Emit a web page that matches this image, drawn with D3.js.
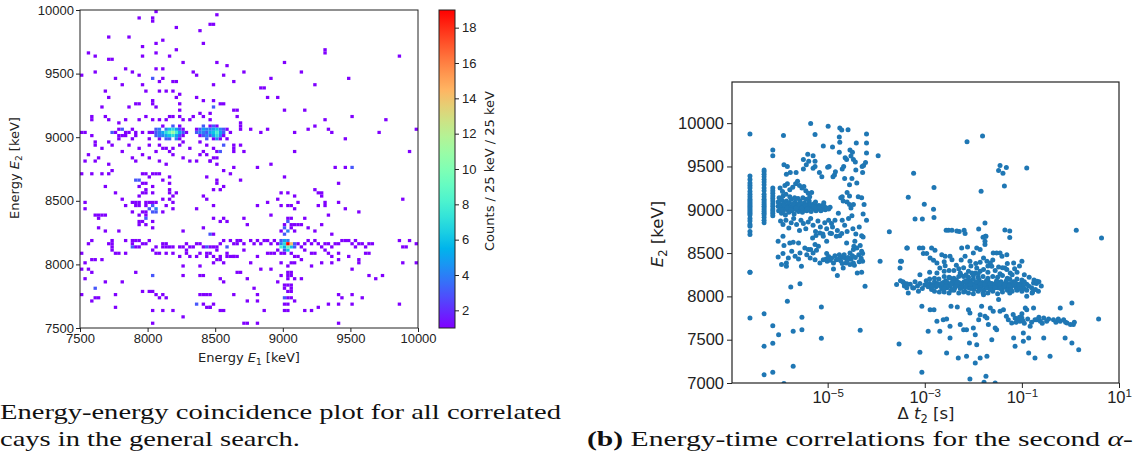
<!DOCTYPE html>
<html>
<head>
<meta charset="utf-8">
<script src="https://cdn.jsdelivr.net/npm/d3@7"></script>
<style>
  body { margin: 0; background: #fff; }
  svg { display: block; }
</style>
</head>
<body>
<div id="chart"></div>
<script>
// ---------- panel (a): 2D histogram, cells are [E1 bin start, E2 bin start, counts (default 1)]
const binW = 25
const eTicks = [7500, 8000, 8500, 9000, 9500, 10000]
const cbTicks = [2, 4, 6, 8, 10, 12, 14, 16, 18]

const cellsUpper = [
  [7500,9475],[7550,9650],[7600,9625],[7700,9600],[7725,9600],[7700,9775],[7600,9500],[7675,9350],[7700,9300],[7650,9225],
  [7575,9150],[7675,9150],[7750,9450],[7800,9400],[7850,9775],[7825,9525],[7875,9500],[7925,9475],[7850,9225],[7900,9250],
  [7925,9250],[7950,9400],[7975,9350],[7950,9700],[7950,9625],[7925,9925],[8025,9925],[8025,9900],[8050,9975],[8050,9725],
  [8050,9650],[8100,9750],[8025,9275],[8025,9250],[8050,9525],[8100,9525],[8075,9425],[8100,9450],[8025,9450,3],[8075,9350],
  [8125,9350],[8050,9225],[8150,9625],[8200,9850],[8200,9675],[8175,9425],[8200,9425],[8175,9350],[8200,9300],[8225,9325],
  [8250,9575],[8225,9250],[8225,9200],[8150,9150],[8175,9150],[8325,9500],[8350,9475],[8325,9150],[8350,9300],[8375,9825],
  [8400,9725],[8450,9875],[8475,9875],[8500,9950],[8500,9575],[8400,9275],[8475,9275],[8375,9175],[8450,9175],[8475,9225,3],
  [8525,9250],[8550,9250],[8550,9475],[8575,9550],[8475,9400],[8625,9425],[8625,9200],[8650,9150],[8675,9100],
  [9300,9650],[9300,9675],[9850,9625],[8700,9500],[9000,9575],[9125,9500],[8900,9450],[8825,9375],[8850,9375],[9225,9400],
  [9475,9450],[8875,9300],[8950,9300],[8650,9200],[9000,9200],[9150,9200],[9300,9125],[9500,9150],[9750,9125],
  [7575,9125],[7700,9125],[7775,9100],[7825,9125],[7925,9125],[7975,9150],[8025,9125],[8075,9125],[8125,9125],[8225,9150],
  [8250,9125],[8300,9125],[8400,9150],[8450,9125]
]

const cells9000 = [
  [8100,9075],[8175,9075,3],[8225,9075],
  [8050,9050,3],[8075,9050,4],[8125,9050,4],[8150,9050,6],[8175,9050,7],[8200,9050,5],[8225,9050,3],[8250,9050],
  [8025,9025],[8050,9025,3],[8075,9025,4],[8100,9025,5],[8125,9025,7],[8150,9025,9],[8175,9025,11],[8200,9025,8],[8225,9025,5],
  [8250,9025,3],[8275,9025],
  [8050,9000,3],[8075,9000,4],[8100,9000,4],[8125,9000,5],[8150,9000,6],[8175,9000,7],[8200,9000,5],[8225,9000,3],[8250,9000],
  [8075,8975],[8125,8975,3],[8150,8975,3],[8200,8975,4],[8225,8975],
  [8400,9075,3],[8450,9075],[8475,9075,3],[8500,9075],
  [8350,9050],[8375,9050,3],[8400,9050,5],[8425,9050,4],[8450,9050,4],[8475,9050,5],[8500,9050,6],[8525,9050,4],[8550,9050,3],
  [8575,9050],
  [8350,9025,3],[8375,9025,4],[8400,9025,4],[8425,9025,3],[8450,9025,5],[8475,9025,6],[8500,9025,8],[8525,9025,5],[8550,9025,3],
  [8600,9025],
  [8375,9000],[8400,9000,3],[8425,9000,4],[8450,9000,3],[8475,9000,5],[8500,9000,7],[8525,9000,4],[8550,9000],
  [8425,8975,3],[8475,8975],[8500,8975,4],[8525,8975],
  [7500,9025],[7525,9025],[7725,9025,3],[7750,9025],[7775,9050],[7775,9000],[7800,9000],[7825,9000],[7850,9025],[7875,9050],
  [7900,9025],[7900,9000],[7950,9025],[8000,9025],[7575,9000],[7800,9050,3],[7825,9025],
  [7600,8950],[7700,8950],[7775,8975],[7875,8975],[8000,8975],[8250,8950],[8375,8950],[8575,8975],
  [7550,8850],[7600,8925],[7650,8900],[7725,8925],[7850,8925],[7925,8900],[8000,8925],[8075,8925],[8125,8900],[8175,8900],
  [8225,8925],[8300,8900],[8425,8925],[8475,8900],[8550,8925,3],[8625,8900],[8100,8900],[8150,8875],[8400,8875],[8500,8875],
  [7525,8800],[7600,8800],[7625,8825],[7700,8775],[7800,8875],[7875,8825],[7900,8800],[7950,8850],[8000,8825],[8050,8875],
  [8075,8800],[8125,8775],[8175,8850],[8250,8825],[8300,8800],[8350,8800],[8375,8850],[8450,8800],
  [8675,9050],[8675,9075],[8750,9050],[8875,9050],[8825,9025],[9075,9025],[9175,9050],[9225,9075],[9325,9050],[9350,9025],
  [9700,9025],[9975,9050],[9450,8975],[8625,8925],[8675,8925],[8625,8875],[8700,8875],[9075,8875],[9925,8875],[8425,8850],
  [8475,8825],[8500,8825],[8450,8800],[8500,8775],[8625,8750],[8800,8750],[8900,8775],[9375,8750],[9450,8750],
  [8525,8875,3],[9500,8750,3]
]

const cellsMid = [
  [8425,8675],[9000,8675],[7500,8700],[7575,8700],[7650,8700],[7700,8700],[7725,8725],[7675,8600],[7750,8550],[7800,8500],
  [7825,8450],[7875,8475],[7900,8450],[7525,8425],[7525,8475],[7600,8375],[7625,8375],[7650,8375],[7675,8375],[7625,8350],
  [7625,8275],[7675,8250],[7775,8250],
  [7900,8650,3],[7925,8650,3],[7950,8625],[7975,8625],[7925,8600],[7975,8575],[8025,8600],[7950,8550],[7975,8550],[8025,8550],
  [7925,8525],[7900,8475],[7925,8475],[7975,8475],[8000,8475],[8025,8475],[8050,8475],[7925,8450],[7975,8450],[8025,8450,3],
  [8000,8425,3],[8050,8425,4],[8025,8400,3],[8050,8400,3],[7875,8400],[7950,8400],[7975,8400],[8100,8400],[7925,8375],
  [7975,8375],[7975,8350,3],[7925,8300],[7925,8325],[7950,8325],[7975,8300],[8025,8325],[8025,8275],
  [7950,8700],[7975,8700],[8000,8675],[8025,8700],[8050,8700],[8075,8700],[8100,8650],[8150,8675],[8150,8625],[8150,8575],
  [8150,8550],[8200,8550],[8175,8525],[8100,8500],[8150,8500],[8175,8475],[8125,8450],[8175,8425],[8250,8250],[8350,8425],
  [8425,8500],[8475,8575],[8500,8625],[8550,8725],[8600,8700],[8475,8350],[8525,8325],[8450,8225,3],
  [8500,8650],[8550,8600],[8525,8575],[8475,8450],[8400,8525],[8675,8650],[8550,8350],[8575,8325],[8400,8275],[8475,8225],
  [8700,8350],[8725,8300],[8800,8450],[8875,8475],[8900,8375],[8950,8500],[8975,8550],[9025,8550],[9075,8525],[8975,8450],
  [9025,8450],[9050,8450],[9075,8425],[9100,8475],[9150,8350],[9225,8575],[9250,8550],[9275,8550],[9275,8525],[9250,8450],
  [9300,8475],[9300,8450],[9325,8375],[9400,8625],[9400,8475],[9450,8425],[9550,8400],[9275,8300],[9350,8225],[9875,8500],
  [9025,8350],[9050,8350],[9025,8325,3],[9000,8300],[9050,8300],[9075,8300],[9100,8300],[9125,8300],[9000,8275,3],[9050,8275],
  [9025,8250,4],[9075,8250],[9175,8275],[9225,8250],[8975,8250],[9000,8225,3]
]

const cells8100 = [
  [7550,8150],[7575,8175],[7700,8150],[7725,8175],[7725,8150],[7725,8125],[7825,8175],[7875,8175],[7900,8175],[7925,8175],
  [7875,8150],[7875,8125,3],[7900,8125],[7925,8125],[7950,8150],[7975,8150],[8000,8175],[8025,8100],[8050,8125],[8050,8075],
  [8075,8075],[8100,8150],[8100,8125],[8125,8150],[8125,8125],[8150,8125],[8175,8125],[8225,8125],[8250,8125],[8275,8150],
  [8275,8100],[8300,8125],[8325,8125],[8350,8150],[8375,8150],[8400,8125],[8425,8125,3],[8450,8125],[8475,8125],[8500,8125],
  [8525,8150],[8550,8175],[8575,8125,3],[8600,8175],[8625,8150],[8650,8150],[8650,8175],
  [7725,8100],[7775,8075],[7750,8075],[7825,8075],[7500,8075],[7575,8025],[7600,8025],[7650,8025],[7525,8000],
  [8125,8075],[8175,8075],[8225,8050],[8275,8075],[8300,8050],[8350,8050],[8375,8075],[8425,8050],[8450,8075],[8475,8050],
  [8500,8025],[8525,8025],[8575,8050],[8600,8050],[8625,8050],
  [8675,8175],[8700,8150],[8750,8175],[8775,8150],[8800,8175],[8825,8150],[8850,8175],[8875,8175],[8900,8150],[8925,8175],
  [8950,8150],[8975,8150,4],[8975,8175,3],[9000,8175,5],[9025,8150,19],[9050,8150,14],[9000,8150,7],[9025,8175,4],
  [8975,8125,8],[9025,8125,9],[9050,8125,6],[9000,8125,5],[9025,8100,6],[9000,8100,3],[9075,8150,3],[9075,8125,3],
  [9100,8150],[9125,8125],[9150,8150],[9175,8175],[9200,8150],[9225,8175],[9250,8150],[9275,8125],[9300,8150],[9325,8150],
  [9350,8125],[9375,8150],[9400,8150],[9425,8175],[9450,8175],[9475,8175],[9500,8150],[9525,8175],[9550,8150],[9575,8150],
  [9600,8125],[9625,8150],[9650,8150],[9850,8175],[9875,8125],[9900,8125],[9925,8175],[9975,8150],
  [8425,8075],[8500,8100],[8525,8050],[8575,8075],[8625,8050],[8650,8050],[8700,8100],[8800,8050],[8875,8075],[8900,8075],
  [8925,8075],[8950,8100],[8975,8075],[9000,8075],[9050,8075],[9075,8050],[9100,8050],[9150,8100],[9200,8075],[9225,8075],
  [9300,8100],[9325,8075],[9350,8050],[9400,8075],[9475,8050],[9525,8125],[9550,8025],[9600,8075],[9625,8075],
  [8375,7975],[8475,8000],[8550,8000],[8750,8000],[8825,7950],[8900,7950],[8975,8000],[9025,7975],[9050,8000],[9075,8000],
  [9125,8025],[9200,7975],[9275,8000],[9350,8000],[9400,8025],[9500,7950],[9550,8000],[9875,8000],[9975,8000]
]

const cellsLower = [
  [7500,7950],[7550,7950],[7575,7925],[7525,7875],[7575,7700],[7600,7725],[7625,7725],[7500,7750],[7675,7850],[7750,7750],
  [7750,7650],[7800,7850],[7600,7800,3],
  [7900,7925],[8025,7900,3],[7950,7775],[8000,7775],[8025,7775],[8050,7750],[8075,7725],[8100,7750],[8125,7725],[8025,7625],
  [8100,7625],[8175,7625],[8250,7575],[8025,7525],[8250,7975],[8250,7900],[8375,7900],[8525,7875],[8350,7675,3],[8375,7750],
  [8425,7750],[8425,7650],[8450,7650],[8525,7625],[8650,7925],
  [9025,7925],[9050,7925],[9025,7900],[9050,7900],[9025,7875],[9000,7825],[9025,7825],[9050,7825],[9000,7800],[9050,7800],
  [9025,7775],[9050,7775],[9000,7725,3],[9025,7725],[9050,7725],[9075,7700],[9000,7675],[9025,7675],[9000,7625],[9025,7625],
  [8400,7900],[8550,7850],[8675,7925],[8725,7875],[8775,7800],[8800,7750],[8725,7700],[8800,7700],[8850,7625],[8950,7850],
  [8975,7900],[9075,7875],[9125,7875],[9150,7625],[9200,7625],[9250,7650],[9325,7675],[9400,7750],[9425,7725],[9500,7750],
  [9575,7725],[9500,7675],[9400,7675],[9625,7900],[9675,7875],[9725,7900],[9850,7675],[8400,7750],[8450,7750],[8625,7750],
  [8475,7675],[8400,7675],[8450,7650],[8550,7625],[8700,7525],[8725,7525],[8800,7525],[9400,7525]
]

// ---------- panel (b): scatter, points are [log10(dt2 / s), E2 keV]
const tTicks = [1e-5, 1e-3, 1e-1, 1e1]
const sTicksY = [7000, 7500, 8000, 8500, 9000, 9500, 10000]

const stripeTimes = [-6.6, -6.31, -6.13]
const stripeE = [
  [9876,9390,9350,9310,9280,9250,9210,9180,9150,9120,9100,9080,9060,9040,9020,9000,8980,8960,8940,8900,8870,8830,8810,8750,8715,8280,7750],
  [9460,9440,9410,9380,9350,9320,9290,9250,9220,9180,9150,9120,9100,9080,9060,9040,9020,9000,8980,8960,8940,8910,8880,8850,7800,7425,7095],
  [9690,9625,9250,9220,9190,9160,9130,9100,9070,9040,9010,8985,8960,8930,7660,7460,7125]
]

const pts9000 = [
  [-6.02,9090],[-6.02,9040],[-6.01,8990],[-6.0,9140],[-5.98,9010],[-5.97,9060],[-5.95,8960],[-5.94,9110],[-5.93,9030],[-5.91,8990],
  [-5.9,9070],[-5.88,9020],[-5.87,8940],[-5.85,9100],[-5.84,9050],[-5.82,9000],[-5.8,8970],[-5.79,9080],[-5.77,9030],[-5.75,9120],
  [-5.74,8990],[-5.72,9050],[-5.7,9010],[-5.69,8950],[-5.67,9090],[-5.66,9040],[-5.64,9000],[-5.62,9060],[-5.6,8980],[-5.59,9030],
  [-5.57,9100],[-5.55,9010],[-5.54,9050],[-5.52,8970],[-5.5,9030],[-5.48,9080],[-5.47,9000],[-5.45,9040],[-5.43,8990],[-5.41,9060],
  [-5.4,9020],[-5.38,9100],[-5.36,9030],[-5.34,8980],[-5.32,9050],[-5.3,9010],[-5.28,9070],[-5.26,9030],[-5.24,8990],[-5.22,9040],
  [-5.2,9010],[-5.18,9050],[-5.16,9020],[-5.14,8990],[-5.12,9030],[-5.1,9010],[-5.07,9040],[-5.05,9000],[-5.02,9020],[-4.98,9010],
  [-4.95,9030],[-5.96,9000],[-5.89,9050],[-5.83,9020],[-5.76,9000],[-5.71,9070],[-5.65,9020],[-5.58,9060],[-5.53,9020],[-5.46,9050],
  [-5.42,9010],[-5.35,9060],[-5.29,9040],[-5.23,9020],[-5.17,9030],[-5.11,9050],[-5.92,9160],[-5.86,9180],[-5.78,9150],[-5.68,9140],
  [-5.61,9130],[-5.51,9140],[-5.44,9120],[-5.37,9150],[-5.25,9090],[-5.08,9080],
  [-5.97,8870],[-5.92,8830],[-5.86,8880],[-5.8,8790],[-5.75,8850],[-5.7,8900],[-5.64,8830],[-5.58,8760],[-5.55,8880],[-5.5,8840],
  [-5.45,8780],[-5.4,8860],[-5.35,8900],[-5.3,8820],[-5.25,8750],[-5.2,8870],[-5.15,8800],[-5.1,8720],[-5.06,8850],[-5.02,8780],
  [-4.95,8730],[-4.9,8800],[-4.8,8760],[-4.75,8700],[-4.65,8820],[-4.6,8750],[-4.48,8780],[-4.42,8720],[-4.35,8800],[-4.3,8700]
]

const ptsUpper = [
  [-5.98,9250],[-5.93,9210],[-5.88,9280],[-5.83,9300],[-5.78,9230],[-5.72,9260],[-5.66,9300],[-5.62,9330],[-5.58,9280],[-5.53,9250],
  [-5.49,9270],[-5.45,9220],[-5.4,9190],[-5.33,9200],[-5.85,9410],[-5.9,9520],[-5.83,9500],[-5.77,9430],[-5.65,9430],[-5.39,9560],
  [-5.44,9520],[-5.5,9470],[-5.3,9480],[-5.26,9500],[-5.17,9430],[-5.12,9380],[-5.0,9490],[-4.97,9500],[-4.89,9380],[-4.86,9400],
  [-4.84,9440],[-4.7,9470],[-4.67,9500],[-4.65,9360],[-4.55,9290],[-4.6,9200],[-4.7,9150],[-4.73,9140],[-4.68,9100],[-4.6,9090],
  [-4.55,9060],[-4.52,9020],[-4.47,9060],[-4.37,9150],[-4.3,9140],[-4.25,9060],[-4.27,8950],[-4.2,8880],[-4.5,8930],[-4.57,8900],
  [-4.7,8880],[-4.78,8960],[-4.85,8880],[-4.92,8840],[-4.98,8880],
  [-5.91,9857],[-5.35,9995],[-5.26,9870],[-4.99,9965],[-4.75,9945],[-4.71,9920],[-4.58,9925],[-4.76,9840],[-4.75,9780],[-5.09,9735],
  [-4.9,9725],[-4.76,9665],[-4.54,9690],[-4.49,9665],[-4.41,9770],[-4.2,9875],[-4.2,9770],[-4.2,9655],[-4.64,9600],[-4.61,9580],
  [-4.52,9620],[-4.47,9580],[-4.43,9550],[-5.41,9640],[-5.3,9625],[-5.26,9560],[-5.5,9580],[-3.96,9625],[-4.29,9500],[-4.26,9510],
  [-4.22,9545],[-4.28,9430],[-4.42,9460],[-4.5,9360],[-4.4,9310],[-4.55,9160],[-3.34,9145],
  [-3.23,9422],[-3.2,8894],[-3.05,8894],[-3.01,9064],[-2.81,9256],[-2.82,9006],[-2.81,8910],[-2.13,9784],[-1.81,9853],[-1.84,9214],
  [-1.48,9452],[-1.45,9510],[-1.39,9422],[-1.32,9487],[-1.36,9275],[-0.9,9483],[-1.76,8848],[-3.73,8745]
]

const pts8500 = [
  [-6.02,8636],[-5.92,8694],[-5.9,8586],[-5.78,8617],[-5.71,8625],[-5.6,8617],[-6.02,8455],[-5.92,8494],[-5.85,8386],[-5.81,8444],
  [-5.74,8521],[-5.67,8463],[-5.6,8432],[-5.57,8501],[-5.47,8559],[-5.4,8540],[-5.43,8482],[-5.35,8540],[-5.3,8501],[-5.23,8532],
  [-5.19,8578],[-5.26,8598],[-5.31,8675],[-5.24,8702],[-5.16,8733],[-5.09,8694],[-5.03,8432],[-5.01,8405],[-4.95,8417],[-4.88,8386],
  [-4.82,8424],[-4.76,8482],[-4.71,8455],[-4.64,8444],[-4.62,8386],[-4.54,8501],[-4.47,8540],[-4.46,8578],[-4.4,8559],[-4.33,8586],
  [-4.28,8494],[-4.28,8405],[-4.3,8278],[-4.39,8271],[-4.47,8386],[-4.54,8367],[-4.68,8328],[-4.8,8240],[-4.88,8317],[-5.02,8494],
  [-5.09,8424],[-5.16,8386],[-5.26,8424],[-5.36,8444],[-5.54,8347],[-5.85,8347],[-5.95,8367],[-4.61,8617],[-4.44,8636],[-4.27,8686],
  [-4.82,8694],[-4.92,8725],[-4.71,8725],[-5.02,8636],
  [-4.98,8460],[-4.92,8440],[-4.85,8470],[-4.78,8430],[-4.73,8410],[-4.66,8480],[-4.58,8450],[-4.52,8430],[-4.49,8470],[-4.43,8450],
  [-4.36,8480],[-4.31,8440],[-4.3,8520],[-4.35,8400],[-4.6,8410],[-4.7,8380],[-4.45,8360],
  [-3.92,8405],[-3.51,8328],[-3.5,8405],[-3.37,8559],[-3.11,8559],[-3.04,8559],[-2.86,8559],[-2.79,8532],[-2.65,8482],[-2.58,8463],
  [-2.48,8463],[-2.44,8424],[-2.24,8559],[-2.12,8571],[-2.0,8501],[-1.93,8559],[-1.86,8540],[-1.76,8598],[-1.76,8636],[-1.74,8694],
  [-1.59,8501],[-1.52,8501],[-1.45,8501],[-1.41,8463],[-1.31,8482],[-1.79,8444],[-1.72,8405],[-1.65,8386],[-1.62,8347],[-1.48,8340],
  [-1.35,8328],[-1.31,8309],[-1.24,8271],[-1.17,8386],[-1.0,8405],[-2.17,8463],[-2.07,8405],[-1.86,8394],[-1.93,8328],[-1.86,8290],
  [-1.79,8309],[-2.1,8290],[-2.03,8271],[-1.96,8271],[-2.27,8271],[-2.26,8251],[-2.48,8213],[-2.41,8194],[-2.69,8328],[-2.58,8355],
  [-3.03,8494],[-2.96,8494],[-2.89,8444],[-2.82,8417],[-2.75,8386],
  [-2.75,8270],[-2.5,8300],[-2.35,8360],[-2.2,8330],[-2.05,8350],[-1.95,8380],[-1.7,8350],[-1.6,8420],[-1.4,8330],[-1.3,8380],
  [-1.15,8320],[-1.05,8350],[-2.6,8400],[-2.25,8420],[-2.9,8280],[-3.1,8250],
  [-2.56,8763],[-2.51,8763],[-2.44,8763],[-2.34,8756],[-2.29,8748],[-2.19,8763],[-2.17,8725],[-1.89,8779],[-1.8,8683],[-1.75,8694],
  [-1.35,8767],[-1.25,8756],[-1.25,8680],[0.12,8763],[0.64,8675]
]

const pts8100 = [
  [-3.3,8140],[-3.25,8100],[-3.2,8170],[-3.15,8120],[-3.1,8150],[-3.05,8090],[-3.0,8130],[-2.97,8180],[-2.93,8110],[-2.9,8150],
  [-2.86,8080],[-2.83,8130],[-2.8,8170],[-2.77,8110],[-2.74,8150],[-2.71,8200],[-2.68,8120],[-2.65,8090],[-2.62,8160],[-2.6,8130],
  [-2.57,8180],[-2.54,8100],[-2.51,8150],[-2.48,8120],[-2.46,8070],[-2.43,8170],[-2.4,8140],[-2.38,8100],[-2.35,8190],[-2.32,8130],
  [-2.3,8160],[-2.27,8090],[-2.24,8140],[-2.22,8110],[-2.19,8170],[-2.17,8060],[-2.14,8130],[-2.12,8150],[-2.09,8100],[-2.07,8180],
  [-2.04,8120],[-2.02,8150],[-1.99,8080],[-1.97,8130],[-1.95,8160],[-1.92,8110],[-1.9,8140],[-1.88,8190],[-1.85,8100],[-1.83,8130],
  [-1.81,8160],[-1.78,8070],[-1.76,8120],[-1.74,8150],[-1.71,8100],[-1.69,8170],[-1.67,8130],[-1.64,8110],[-1.62,8150],[-1.6,8080],
  [-1.57,8140],[-1.55,8120],[-1.53,8160],[-1.5,8100],[-1.48,8140],[-1.45,8120],[-1.43,8170],[-1.4,8090],[-1.38,8140],[-1.35,8110],
  [-1.33,8160],[-1.3,8130],[-1.27,8100],[-1.24,8150],[-1.21,8120],[-1.18,8170],[-1.15,8130],[-1.12,8100],[-1.09,8140],[-1.06,8110],
  [-1.02,8150],[-0.98,8120],[-0.95,8090],[-0.9,8140],[-0.86,8120],[-0.8,8100],
  [-2.95,8140],[-2.85,8110],[-2.75,8130],[-2.66,8150],[-2.56,8120],[-2.45,8140],[-2.36,8120],[-2.26,8150],[-2.16,8110],[-2.06,8140],
  [-1.96,8120],[-1.86,8150],[-1.77,8140],[-1.66,8150],[-1.56,8100],[-1.46,8150],[-1.36,8130],[-1.26,8120],[-1.16,8140],[-1.06,8130],
  [-2.5,8220],[-2.2,8230],[-1.9,8220],[-1.6,8230],[-1.3,8210],[-1.1,8200],[-2.7,8050],[-2.3,8040],[-2.0,8030],[-1.7,8040],
  [-1.4,8050],[-1.2,8060],[-3.5,8180],[-3.42,8120],[-3.37,8100],[-3.45,8170],[-3.58,8136],[-3.43,8155],[-3.37,8147],
  [-2.9,8200],[-2.8,8210],[-2.6,8230],[-2.4,8210],[-2.3,8230],[-2.1,8220],[-2.0,8200],[-1.8,8230],[-1.7,8210],[-1.5,8220],
  [-1.4,8240],[-1.25,8200],[-1.0,8190],[-0.95,8170],
  [-2.8,8060],[-2.6,8050],[-2.5,8040],[-2.4,8070],[-2.2,8050],[-2.1,8040],[-1.9,8060],[-1.8,8040],[-1.6,8060],[-1.5,8030],
  [-1.3,8070],[-1.25,8040],[-1.1,8070],[-1.0,8060],[-0.9,8070],
  [-2.55,8170],[-2.33,8160],[-2.15,8180],[-1.93,8170],[-1.73,8180],[-1.52,8180],[-1.32,8180],[-1.14,8170],[-2.6,8090],[-2.42,8080],
  [-2.25,8100],[-2.05,8090],[-1.87,8080],[-1.65,8080],[-1.44,8090],[-1.23,8080],[-1.04,8090],
  [-2.6,8290],[-2.4,8300],[-2.3,8320],[-2.15,8250],[-2.0,8240],[-1.9,8260],[-1.7,8280],[-1.55,8300],[-1.45,8260],[-1.2,8250],
  [-1.1,8280],[-0.95,8250],[-0.85,8220],[-0.75,8190],[-0.7,8150],[-0.65,8170],[-0.6,8120],[-0.72,8080],[-0.78,8050],
  [-0.76,8155],[-0.69,8174],[-0.79,8040],[-0.9,8001],[-0.66,8059]
]

const ptsLower = [
  [-3.34,8040],[-3.23,8097],[-3.13,8059],[-3.06,7886],[-2.89,7847],[-2.81,7847],[-2.75,7712],[-2.93,7597],[-2.69,7597],[-2.62,7731],
  [-2.55,7739],[-2.48,7655],[-2.48,7520],[-2.46,7886],[-2.33,7878],[-2.27,7674],[-2.2,7616],[-2.14,7616],[-2.1,7847],[-2.08,7462],
  [-2.07,7808],[-2.0,7635],[-1.96,7558],[-1.93,7443],[-1.89,7731],[-1.86,7789],[-1.83,7886],[-1.79,8020],[-1.76,7770],[-1.72,7751],
  [-1.69,7674],[-1.65,7866],[-1.62,7500],[-1.59,7828],[-1.55,7635],[-1.52,7616],[-1.48,7963],[-1.45,7828],[-1.38,7847],[-1.32,7770],
  [-1.28,7731],[-1.21,7693],[-1.17,7520],[-1.14,7751],[-1.1,7731],[-1.07,7731],[-1.04,7712],[-1.0,7751],[-0.97,7578],[-0.93,7866],
  [-0.9,7847],[-0.86,7520],[-0.83,7655],[-0.76,7866],[-0.73,7731],[-0.69,7731],[-0.62,7712],[-0.55,7751],[-0.49,7712],[-0.35,7731],
  [-0.21,7712],[-0.14,7731],[-0.07,7693],[0.0,7674],[0.06,7674],[0.03,7924],[-0.21,7866],[-0.55,7520],[-0.11,7520],[0.03,7462],
  [0.17,7385],[-0.42,7308],[-0.73,7289],[-0.86,7346],[-0.97,7481],[-1.14,7423],[-1.72,7308],[-1.86,7289],[-1.96,7231],[-2.14,7308],
  [-2.31,7289],[-2.55,7346],[-3.1,7354],[-3.06,7123],[-2.07,7046],[-1.74,7077],[-1.55,7000],[-1.78,7008],[0.58,7739],
  [-1.12,7700],[-1.05,7760],[-0.98,7720],[-0.95,7690],[-0.88,7740],[-0.8,7700],[-0.65,7760],[-0.58,7690],[-0.45,7740],[-0.3,7700],
  [-0.25,7740],[-0.1,7700],[0.08,7700],[-1.18,7790],[-1.0,7800]
]

const ptsSparse = [
  [-6.6,8280],[-6.01,7558],[-5.9,6995],[-5.83,7943],[-5.76,8109],[-5.71,7597],[-5.71,7192],[-5.57,8147],[-5.53,7758],[-5.53,7616],
  [-5.13,7878],[-5.13,7516],[-4.33,7608],[-4.23,8116],[-3.53,7450],[-3.48,8405],[-3.36,8559]
]

// ---------- drawing
const W = 1133, H = 459
const svg = d3.select('#chart').append('svg')
  .attr('width', W).attr('height', H)
  .style('font-family', '"DejaVu Sans", sans-serif')

const rainbow = t => {
  const r = Math.min(1, Math.abs(2 * t - 0.5))
  const g = Math.sin(Math.PI * t)
  const b = Math.cos(Math.PI * t / 2)
  return d3.rgb(r * 255, g * 255, b * 255).toString()
}
const cnorm = d3.scaleLinear().domain([1, 19]).range([0, 1]).clamp(true)

// panel (a)
const xE = d3.scaleLinear().domain([7500, 10000]).range([80, 418])
const yE = d3.scaleLinear().domain([7500, 10000]).range([328, 10])

const cells = [].concat(cellsUpper, cells9000, cellsMid, cells8100, cellsLower)
  .map(d => ({ e1: d[0], e2: d[1], c: d[2] || 1 }))
  .sort((a, b) => a.c - b.c)

const gA = svg.append('g')
gA.selectAll('rect.cell').data(cells).join('rect')
  .attr('class', 'cell')
  .attr('x', d => xE(d.e1))
  .attr('y', d => yE(d.e2 + binW))
  .attr('width', d => xE(d.e1 + binW) - xE(d.e1))
  .attr('height', d => yE(d.e2) - yE(d.e2 + binW))
  .attr('fill', d => rainbow(cnorm(d.c)))

const styleAxis = (g, size) => {
  g.select('.domain').remove()
  g.selectAll('line').attr('stroke', '#222')
  g.selectAll('text').attr('fill', '#222').style('font-size', size + 'px')
}

gA.append('g').attr('transform', 'translate(0,328)')
  .call(d3.axisBottom(xE).tickValues(eTicks).tickFormat(d3.format('d')).tickSize(4).tickPadding(2))
  .call(g => styleAxis(g, 13))
gA.append('g').attr('transform', 'translate(80,0)')
  .call(d3.axisLeft(yE).tickValues(eTicks).tickFormat(d3.format('d')).tickSize(4).tickPadding(2))
  .call(g => styleAxis(g, 13))
gA.append('rect').attr('x', 80).attr('y', 10).attr('width', 338).attr('height', 318)
  .attr('fill', 'none').attr('stroke', '#222').attr('stroke-width', 1)

const labA = gA.append('text').attr('x', 249).attr('y', 362).attr('text-anchor', 'middle')
  .style('font-size', '13px').attr('fill', '#222')
labA.append('tspan').text('Energy ')
labA.append('tspan').style('font-style', 'italic').text('E')
labA.append('tspan').style('font-size', '9px').attr('dy', 3).text('1')
labA.append('tspan').attr('dy', -3).text(' [keV]')

const labA2 = gA.append('text').attr('transform', 'translate(19,168) rotate(-90)').attr('text-anchor', 'middle')
  .style('font-size', '13px').attr('fill', '#222')
labA2.append('tspan').text('Energy ')
labA2.append('tspan').style('font-style', 'italic').text('E')
labA2.append('tspan').style('font-size', '9px').attr('dy', 3).text('2')
labA2.append('tspan').attr('dy', -3).text(' [keV]')

// colorbar
const cy = d3.scaleLinear().domain([1, 19]).range([328, 10])
const grad = svg.append('defs').append('linearGradient').attr('id', 'cbar')
  .attr('x1', 0).attr('y1', 1).attr('x2', 0).attr('y2', 0)
grad.selectAll('stop').data(d3.range(0, 1.0001, 0.05)).join('stop')
  .attr('offset', d => d).attr('stop-color', d => rainbow(d))
svg.append('rect').attr('x', 439).attr('y', 10).attr('width', 16).attr('height', 318)
  .attr('fill', 'url(#cbar)').attr('stroke', '#222').attr('stroke-width', 1)
svg.append('g').attr('transform', 'translate(455,0)')
  .call(d3.axisRight(cy).tickValues(cbTicks).tickSize(4).tickPadding(3))
  .call(g => styleAxis(g, 13))
svg.append('text').attr('transform', 'translate(494,171) rotate(-90)').attr('text-anchor', 'middle')
  .style('font-size', '13px').attr('fill', '#222').text('Counts / 25 keV / 25 keV')

// panel (b)
const xT = d3.scaleLog().domain([Math.pow(10, -6.97), 10]).range([732, 1119])
const yS = d3.scaleLinear().domain([7000, 10475]).range([383, 82])

const pts = []
stripeTimes.forEach((t, i) => stripeE[i].forEach(e => pts.push([t, e])))
pts.push(...pts9000, ...ptsUpper, ...pts8500, ...pts8100, ...ptsLower, ...ptsSparse)

const gB = svg.append('g')
gB.append('clipPath').attr('id', 'clipB').append('rect')
  .attr('x', 732).attr('y', 82).attr('width', 387).attr('height', 301)
gB.append('g').attr('clip-path', 'url(#clipB)')
  .selectAll('circle').data(pts).join('circle')
  .attr('cx', d => xT(Math.pow(10, d[0])))
  .attr('cy', d => yS(d[1]))
  .attr('r', 2.5)
  .attr('fill', '#1f77b4')

gB.append('g').attr('transform', 'translate(0,383)')
  .call(d3.axisBottom(xT).tickValues(tTicks).tickSize(5).tickPadding(3))
  .call(g => styleAxis(g, 16.5))
  .call(g => g.selectAll('.tick text').each(function (d) {
    const t = d3.select(this)
    const ex = Math.round(Math.log10(d))
    t.text(null)
    t.append('tspan').text('10')
    t.append('tspan').attr('dy', '-0.5em').style('font-size', '11.5px').text(ex < 0 ? '\u2212' + (-ex) : ex)
  }))
gB.append('g').attr('transform', 'translate(732,0)')
  .call(d3.axisLeft(yS).tickValues(sTicksY).tickFormat(d3.format('d')).tickSize(5).tickPadding(3))
  .call(g => styleAxis(g, 16.5))
gB.append('rect').attr('x', 732).attr('y', 82).attr('width', 387).attr('height', 301)
  .attr('fill', 'none').attr('stroke', '#222').attr('stroke-width', 1.2)

const labB = gB.append('text').attr('x', 926).attr('y', 419).attr('text-anchor', 'middle')
  .style('font-size', '16.5px').attr('fill', '#222')
labB.append('tspan').text('\u0394 ')
labB.append('tspan').style('font-style', 'italic').text('t')
labB.append('tspan').style('font-size', '11.5px').attr('dy', 4).text('2')
labB.append('tspan').attr('dy', -4).text(' [s]')

const labB2 = gB.append('text').attr('transform', 'translate(663,234) rotate(-90)').attr('text-anchor', 'middle')
  .style('font-size', '16.5px').attr('fill', '#222')
labB2.append('tspan').style('font-style', 'italic').text('E')
labB2.append('tspan').style('font-size', '11.5px').attr('dy', 4).text('2')
labB2.append('tspan').attr('dy', -4).text(' [keV]')

// captions
const cap = svg.append('g').style('font-family', '"Liberation Serif", "DejaVu Serif", serif')
  .style('font-size', '22px').attr('fill', '#111')
cap.append('text').attr('x', 0).attr('y', 419)
  .attr('textLength', 561).attr('lengthAdjust', 'spacingAndGlyphs')
  .text('Energy-energy coincidence plot for all correlated')
cap.append('text').attr('x', 0).attr('y', 446)
  .attr('textLength', 300).attr('lengthAdjust', 'spacingAndGlyphs')
  .text('cays in the general search.')
const capB = cap.append('text').attr('x', 587).attr('y', 446)
  .attr('textLength', 546).attr('lengthAdjust', 'spacingAndGlyphs')
capB.append('tspan').style('font-weight', 'bold').text('(b)')
capB.append('tspan').text(' Energy-time correlations for the second ')
capB.append('tspan').style('font-style', 'italic').text('\u03b1')
capB.append('tspan').text('-')
</script>
</body>
</html>
